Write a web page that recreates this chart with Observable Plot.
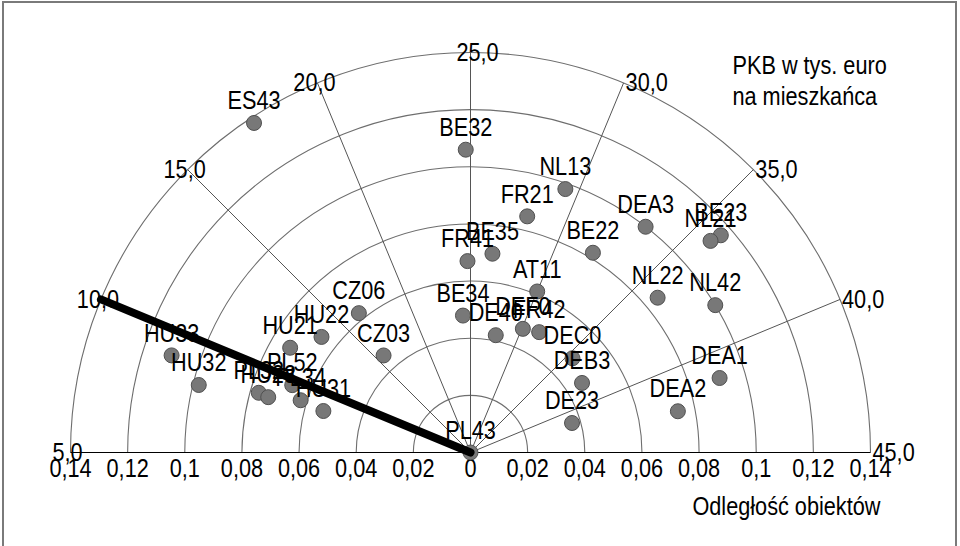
<!DOCTYPE html>
<html><head><meta charset="utf-8">
<script src="https://cdn.jsdelivr.net/npm/d3@7"></script>
<script src="https://cdn.jsdelivr.net/npm/@observablehq/plot@0.6"></script>
<style>
body{margin:0;background:#fff;}
#wrap{position:relative;width:960px;height:546px;overflow:hidden;background:#fff;}
#frame{position:absolute;left:2px;top:1px;width:955px;height:620px;border:2px solid #7a7a7a;box-sizing:border-box;pointer-events:none;}
svg{display:block;}
</style></head><body><div id="wrap"><div id="chart"></div><div id="frame"></div></div>
<script>
// Regions, distance from PL43 (radius) and GDP per capita in thousand euro (angle)
const regions   = ["ES43","BE32","NL13","FR21","DEA3","BE23","NL21","BE22","FR41","BE35","AT11","NL22","NL42","BE34","DE40","DEF0","FR42","DEC0","DEB3","DE23","DEA1","DEA2","CZ06","CZ03","HU22","HU21","HU33","HU32","PL52","PL32","HU23","PL34","HU31","PL43"];
const distances = [0.138,0.106,0.098,0.085,0.100,0.116,0.112,0.082,0.067,0.070,0.061,0.085,0.100,0.048,0.042,0.047,0.0485,0.0486,0.046,0.037,0.091,0.074,0.0625,0.0456,0.066,0.073,0.110,0.098,0.0667,0.077,0.0734,0.0622,0.0535,0];
const gdp       = [17.6,24.8,29.4,28.0,33.4,35.9,35.8,32.0,24.8,26.4,30.0,36.2,38.1,24.3,27.7,30.1,31.6,35.5,37.9,41.4,41.3,42.5,16.4,15.7,13.4,11.7,9.0,8.1,9.6,8.5,8.4,8.8,8.5,10.0];
const referenceGdp = 10.0;

// Grid / axes
const gridRadii   = [0.02,0.04,0.06,0.08,0.10,0.12,0.14];
const spokeValues = [5,10,15,20,25,30,35,40,45];
const spokeLabels = ["5,0","10,0","15,0","20,0","25,0","30,0","35,0","40,0","45,0"];
const axisTicks      = [-0.14,-0.12,-0.10,-0.08,-0.06,-0.04,-0.02,0,0.02,0.04,0.06,0.08,0.10,0.12,0.14];
const axisTickLabels = ["0,14","0,12","0,1","0,08","0,06","0,04","0,02","0","0,02","0,04","0,06","0,08","0,1","0,12","0,14"];
const titleText = "PKB w tys. euro\nna mieszkańca";
const xAxisTitle = "Odległość obiektów";

const gMin = 5, gMax = 45, rMax = 0.14;
const ang = v => (v - gMin) / (gMax - gMin) * Math.PI;
const px = (r, v) => -r * Math.cos(ang(v));
const py = (r, v) => r * Math.sin(ang(v));

const points = regions.map((name, i) => ({name, r: distances[i], v: gdp[i], x: px(distances[i], gdp[i]), y: py(distances[i], gdp[i])}));
const spokes = spokeValues.map((v, i) => ({v, label: spokeLabels[i], x: px(rMax, v), y: py(rMax, v)}));
const ticks = axisTicks.map((t, i) => ({t, label: axisTickLabels[i]}));

const font = "'Liberation Sans',Arial,sans-serif";
const stretch = 1.18;

const chart = Plot.plot({
  width: 960, height: 546,
  marginLeft: 41.43, marginRight: 61.43, marginTop: 23.43, marginBottom: 94,
  x: {domain: [-0.15, 0.15], axis: null},
  y: {domain: [0, 0.15], axis: null},
  r: {type: "linear", domain: [0, rMax], range: [0, 400]},
  style: {fontFamily: font, fontSize: "21.7px", color: "#000", background: "transparent"},
  marks: [
    Plot.dot(gridRadii, {x: () => 0, y: () => 0, r: d => d, stroke: "#6e6e6e", strokeWidth: 1.1, fill: "none", clip: true}),
    Plot.link(spokes, {x1: () => 0, y1: () => 0, x2: "x", y2: "y", stroke: "#555", strokeWidth: 1}),
    Plot.link([0], {x1: () => -rMax, x2: () => rMax, y1: () => 0, y2: () => 0, stroke: "#000", strokeWidth: 1}),
    Plot.text(spokes.filter(d => d.v < 25), {x: "x", y: "y", text: "label", textAnchor: "middle", dx: -3}),
    Plot.text(spokes.filter(d => d.v === 25), {x: "x", y: "y", text: "label", textAnchor: "middle", dx: 7}),
    Plot.text(spokes.filter(d => d.v > 25), {x: "x", y: "y", text: "label", textAnchor: "start", dx: 2}),
    Plot.text(ticks, {x: "t", y: () => 0, text: "label", dy: 16}),
    Plot.dot(points, {x: "x", y: "y", r: 7.5, fill: "#787878", stroke: "#505050", strokeWidth: 1}),
    Plot.text(points, {x: "x", y: "y", text: "name", dy: -22}),
    Plot.link([referenceGdp], {x1: () => 0, y1: () => 0, x2: v => px(rMax, v), y2: v => py(rMax, v), stroke: "#000", strokeWidth: 8, strokeLinecap: "round"}),
    Plot.text([titleText], {frameAnchor: "top-right", textAnchor: "start", lineAnchor: "middle", dx: -166.6, dy: 56, lineHeight: 31 / (21.7 * stretch)}),
    Plot.text([xAxisTitle], {frameAnchor: "bottom-right", textAnchor: "end", lineAnchor: "middle", dx: -18.6, dy: 54})
  ]
});

// The reference's lettering is taller than it is wide: stretch every text vertically about its anchor.
const NS = "http://www.w3.org/2000/svg";
const isNum = s => s != null && /^\s*-?[\d.]+(e-?\d+)?\s*$/.test(s);
chart.querySelectorAll("text").forEach(t => {
  const g = document.createElementNS(NS, "g");
  const tr = t.getAttribute("transform");
  if (tr) g.setAttribute("transform", tr);
  let tx = 0, ty = 0;
  const x = t.getAttribute("x"), y = t.getAttribute("y");
  if (isNum(x)) { tx = +x; t.removeAttribute("x"); }
  if (isNum(y)) { ty = +y; t.removeAttribute("y"); }
  t.parentNode.insertBefore(g, t);
  g.appendChild(t);
  t.setAttribute("transform", `translate(${tx},${ty}) scale(1,${stretch})`);
});
document.getElementById("chart").appendChild(chart);
</script>
</body></html>
